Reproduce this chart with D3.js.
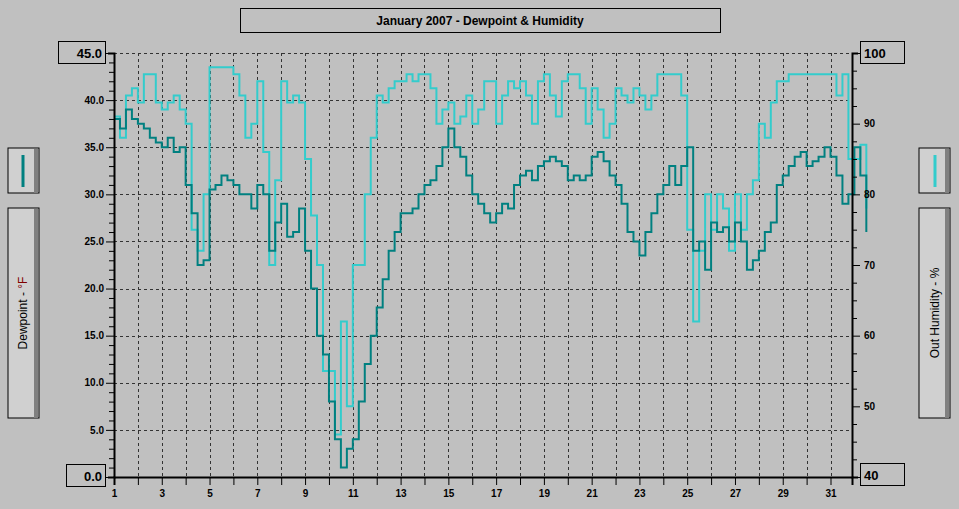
<!DOCTYPE html>
<html><head><meta charset="utf-8">
<script src="https://cdn.jsdelivr.net/npm/d3@7"></script>
<style>body{margin:0;background:#c0c0c0}text{font-family:"Liberation Sans",Arial,sans-serif}</style>
</head><body><svg id="c" width="959" height="509"></svg>
<script>
// six-hourly readings starting Jan 1 00:00
var dewpoint = [38,37,39,38, 37.5,37,36,35.5, 35,36,34.5,35, 31,28,22.5,23, 30.5,31,32,31.5,
  31,30,30,28.5, 31,30,24,27, 29,25.5,26,28.5, 24,20,15,13, 8,4,1,3,
  4,8,12,15, 18,21,24,26, 28,28,28.5,30, 31,31.5,33,35, 37,35,34,32,
  30,29,28,27, 28,29,28.5,31, 32,32.5,31.5,33, 33.5,34,33.5,33, 31.5,32,31.5,32,
  34,34.5,33.5,32, 31,29,26,25, 23.5,26,28,30, 31,33,31,33, 35,24,25,22,
  27,26,26.5,25, 27,25,22,23, 24,26,27,31, 32,33,34,34.5, 33,33.5,34,35,
  34,32,29,30, 35,32,26];
var humidity = [91,88,94,95, 93,97,97,93, 92,93,94,92, 90,75,72,80, 98,98,98,98,
  97,94,88,90, 96,86,70,82, 96,93,94,93, 85,77,70,55, 55,46,62,50,
  70,70,80,88, 94,93,95,96, 96,97,96,97, 97,95,90,92, 93,90,91,94,
  90,92,96,96, 90,94,96,95, 96,94,90,96, 97,94,91,96, 97,97,95,90,
  95,92,88,90, 95,94,93,95, 94,92,94,97, 97,97,97,94, 75,62,72,80,
  75,80,78,72, 80,75,80,82, 90,88,93,96, 96,97,97,97, 97,97,97,97,
  97,94,97,85, 85,87,78];
var dayTicks = d3.range(1, 32);
var title = "January 2007 - Dewpoint & Humidity";

var svg = d3.select('#c');
var L = 114, R = 852, T = 53, B = 477;
var x = d3.scaleLinear().domain([1, 31.9]).range([L, R]);
var yD = d3.scaleLinear().domain([0, 45]).range([B, T]);
var yH = d3.scaleLinear().domain([40, 100]).range([B, T]);

function box(x0, y0, w, h, fill) {
    svg.append('rect').attr('x', x0 + .5).attr('y', y0 + .5).attr('width', w).attr('height', h)
        .attr('fill', fill || 'none').attr('stroke', '#000');
}

// title
box(240, 8, 480, 24);
svg.append('text').attr('x', 480).attr('y', 25).attr('text-anchor', 'middle')
    .attr('font-size', 12).attr('font-weight', 'bold').text(title);

// grid
var g = svg.append('g').attr('stroke', '#333').attr('stroke-dasharray', '3,3');
dayTicks.slice(1).forEach(function(d) {
    g.append('line').attr('x1', Math.round(x(d)) + .5).attr('x2', Math.round(x(d)) + .5).attr('y1', T).attr('y2', B);
});
d3.range(5, 50, 5).forEach(function(v) {
    g.append('line').attr('x1', L).attr('x2', R).attr('y1', Math.round(yD(v)) + .5).attr('y2', Math.round(yD(v)) + .5);
});

// lines
function t(i) { return 1 + i / 4; }
svg.append('path').datum(humidity).attr('fill', 'none').attr('stroke', '#33cccc').attr('stroke-width', 2)
    .attr('d', d3.line().x(function(d, i) { return x(t(i)); }).y(function(d) { return yH(d); }).curve(d3.curveStepAfter));
svg.append('path').datum(dewpoint).attr('fill', 'none').attr('stroke', '#008080').attr('stroke-width', 2)
    .attr('d', d3.line().x(function(d, i) { return x(t(i)); }).y(function(d) { return yD(d); }).curve(d3.curveStepAfter));

// axes
var ax = svg.append('g').attr('font-weight', 'bold').attr('font-size', 13);
var xa = ax.append('g').attr('transform', 'translate(0,' + B + ')')
    .call(d3.axisBottom(x).tickValues(dayTicks).tickSize(8).tickFormat(function(d) { return d % 2 ? d : ''; }));
var la = ax.append('g').attr('transform', 'translate(' + L + ',0)')
    .call(d3.axisLeft(yD).tickValues(d3.range(0, 46, 1)).tickSize(6)
        .tickFormat(function(d) { return d % 5 || d == 0 || d == 45 ? '' : d.toFixed(1); }));
la.selectAll('.tick line').attr('x2', function(d) { return d % 5 ? -5 : -8; });
var ra = ax.append('g').attr('transform', 'translate(' + R + ',0)')
    .call(d3.axisRight(yH).tickValues(d3.range(40, 101, 2.5)).tickSize(6)
        .tickFormat(function(d) { return d % 10 || d == 40 || d == 100 ? '' : d; }));
ra.selectAll('.tick line').attr('x2', function(d) { return d % 10 ? 5 : 8; });
ax.selectAll('.domain').attr('stroke', '#000').attr('stroke-width', 2);
ax.selectAll('text').attr('fill', '#000').attr('font-family', '"Liberation Sans",Arial,sans-serif');
xa.selectAll('text').attr('dy', '0.9em');
la.selectAll('.tick text').attr('x', -10);
ra.selectAll('.tick text').attr('x', 12);

// end value boxes
box(58, 41, 47, 22); box(66, 464, 39, 22);
box(860, 41, 44, 22); box(860, 463, 44, 22);
[[102, 58, '45.0', 'end'], [102, 481, '0.0', 'end'], [864, 58, '100', 'start'], [864, 480, '40', 'start']].forEach(function(a) {
    svg.append('text').attr('x', a[0]).attr('y', a[1]).attr('text-anchor', a[3])
        .attr('font-size', 13).attr('font-weight', 'bold').text(a[2]);
});

// legend panels
function panel(x0, y0, w, h) {
    svg.append('rect').attr('x', x0).attr('y', y0).attr('width', w).attr('height', h).attr('fill', '#d0d0d0').attr('stroke', '#000');
    svg.append('rect').attr('x', x0 + w - 5).attr('y', y0 + 1).attr('width', 4).attr('height', h - 1).attr('fill', '#808080');
}
panel(8, 148, 31, 45); panel(919, 148, 31, 45);
panel(8, 208, 31, 210); panel(919, 208, 31, 210);
svg.append('line').attr('x1', 23).attr('x2', 23).attr('y1', 155).attr('y2', 187).attr('stroke', '#008080').attr('stroke-width', 3);
svg.append('line').attr('x1', 935).attr('x2', 935).attr('y1', 155).attr('y2', 187).attr('stroke', '#33cccc').attr('stroke-width', 3);
var lt = svg.append('text').attr('transform', 'translate(27,313) rotate(-90)').attr('text-anchor', 'middle').attr('font-size', 12);
lt.append('tspan').text('Dewpoint - ');
lt.append('tspan').attr('fill', '#800000').text('°F');
svg.append('text').attr('transform', 'translate(939,313) rotate(-90)').attr('text-anchor', 'middle')
    .attr('font-size', 12).text('Out Humidity - %');
</script></body></html>
